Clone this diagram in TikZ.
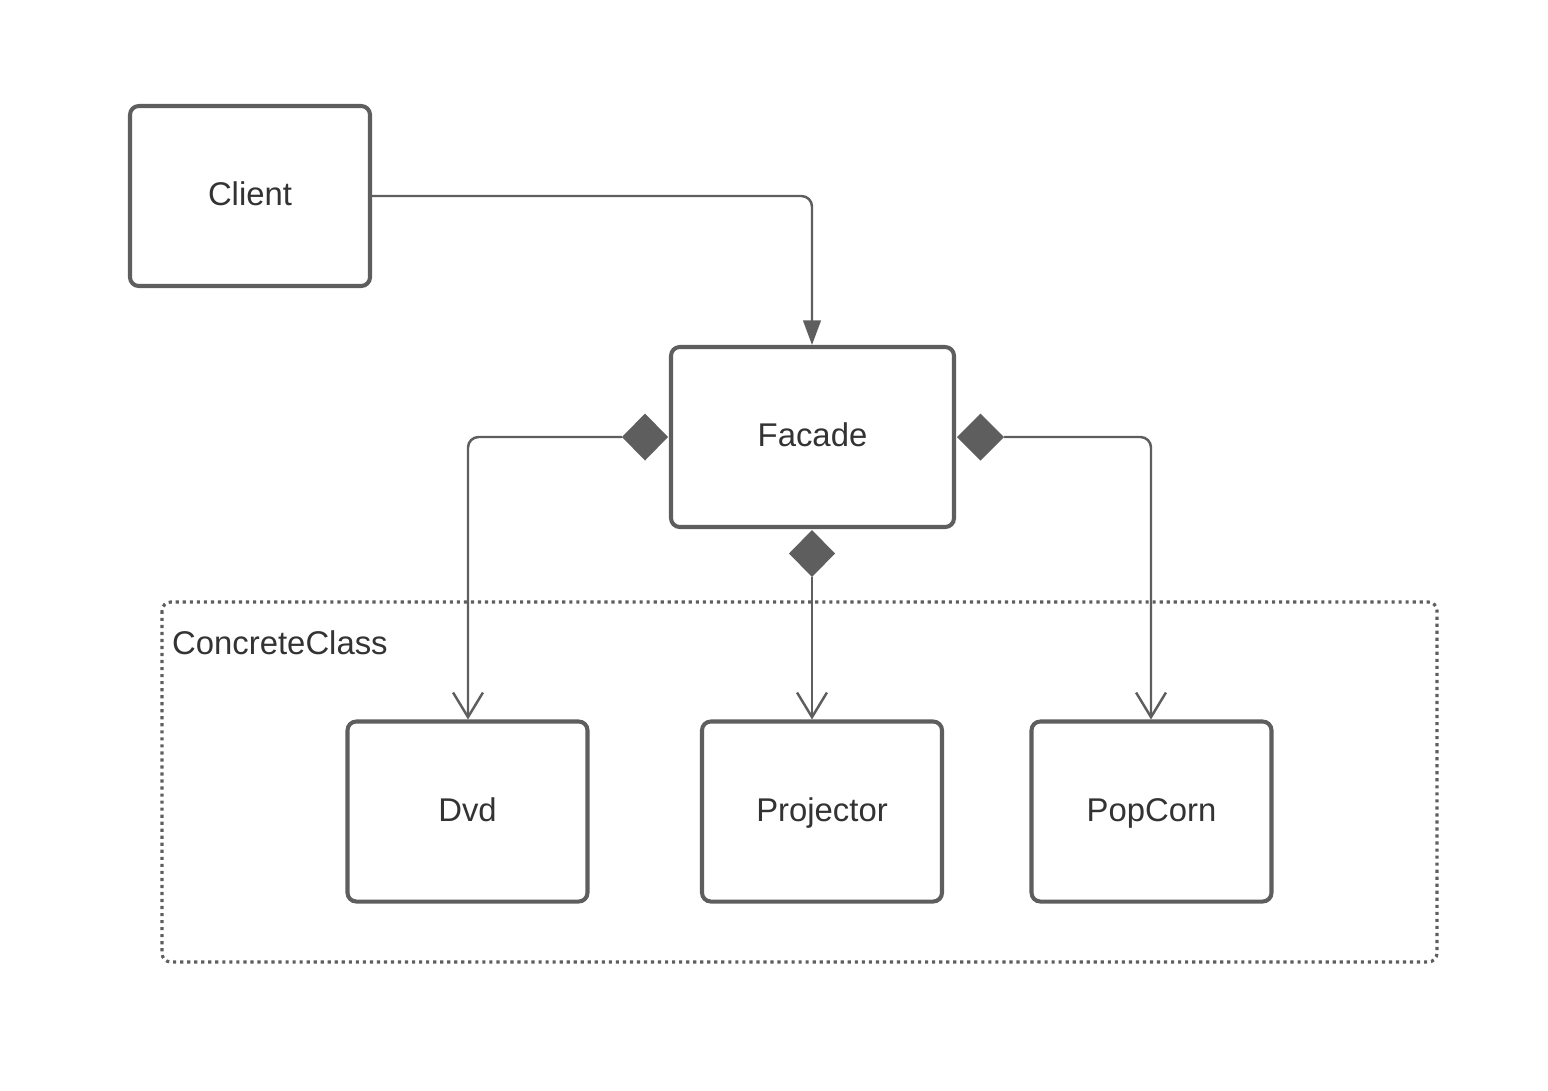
\documentclass[tikz,border=0pt]{standalone}
\usepackage{fontspec}
\setmainfont{Liberation Sans}
\usetikzlibrary{arrows.meta}
\definecolor{edge}{HTML}{5E5E5E}
\definecolor{ink}{HTML}{333333}
\begin{document}
\begin{tikzpicture}[x=0.02cm,y=-0.02cm,
  cls/.style={draw=edge,line width=2.3pt,rounded corners=5pt,fill=white,
    minimum width=240*0.02cm,minimum height=180*0.02cm,inner sep=0pt,
    text height=13.5pt,text depth=2.5pt,
    font=\fontsize{18.7}{22}\selectfont,text=ink},
  link/.style={draw=edge,line width=1.4pt,rounded corners=6pt},
  dep/.style={link,-{Triangle[length=14pt,width=10pt]}},
  nav/.style={link,-{Straight Barb[length=14pt,width=17pt,line width=1.4pt]}},
  dia/.style={fill=edge,draw=none}]
\useasboundingbox (0,0) rectangle (1548,1090);
% package frame
\draw[edge,line width=1.8pt,dash pattern=on 1.8pt off 2.2pt,rounded corners=5pt] (162,602) rectangle (1437,962);
\node[anchor=west,text=ink,font=\fontsize{18.7}{22}\selectfont] (pkg) at (166,643) {ConcreteClass};
% classes
\node[cls] (client) at (250,196) {Client};
\node[cls,minimum width=283*0.02cm] (facade) at (812.5,437) {Facade};
\node[cls] (dvd) at (467.5,811.5) {Dvd};
\node[cls] (proj) at (822,811.5) {Projector};
\node[cls] (pop) at (1151.5,811.5) {PopCorn};
% aggregation diamonds
\coordinate (dl) at (622,437);
\coordinate (dr) at (1004,437);
\coordinate (db) at (812,577);
\fill[dia] (622,437) -- (645,413.5) -- (668,437) -- (645,460.5) -- cycle;
\fill[dia] (957,437) -- (980.5,413.5) -- (1004,437) -- (980.5,460.5) -- cycle;
\fill[dia] (789,553.5) -- (812,530) -- (835,553.5) -- (812,577) -- cycle;
% connectors
\draw[dep] (client.east |- 0,196) -| (facade.north -| 812,0);
\draw[nav] (dl) -| (dvd.north -| 468,0);
\draw[nav] (dr) -| (pop.north -| 1151,0);
\draw[nav] (db) -- (proj.north -| 812,0);
\end{tikzpicture}
\end{document}
